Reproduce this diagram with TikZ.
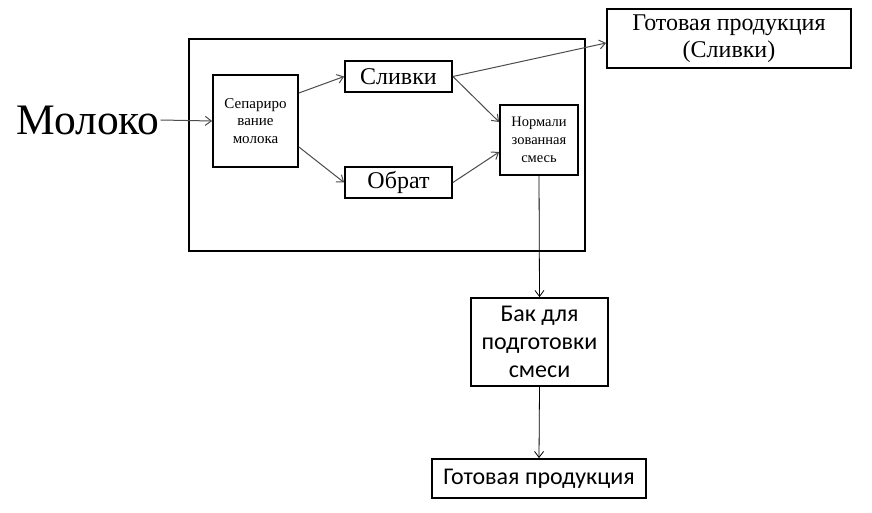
\documentclass[tikz,border=0pt]{standalone}
\usepackage{fontspec}
\setmainfont{Liberation Serif}
\newfontfamily\calib{Carlito}
\usetikzlibrary{arrows.meta}
\begin{document}
\begin{tikzpicture}[x=1pt,y=-1pt,
  box/.style={draw,line width=1.8pt,inner sep=0pt,align=center},
  arr/.style={draw=black!70,line width=1pt,-{Straight Barb[length=6pt,width=9pt]}},
  varr/.style={draw=black,line width=0.8pt,-{Straight Barb[length=6pt,width=9pt]}}]
\useasboundingbox[fill=white] (0,0) rectangle (872,513);
\node[box,minimum width=396pt,minimum height=212pt] (frame) at (387,145) {};
\node[box,minimum width=85pt,minimum height=92pt,font=\fontsize{15}{17.5}\selectfont] (sep) at (255.5,121) {Сепариро\\вание\\молока};
\node[box,minimum width=107pt,minimum height=31pt,font=\fontsize{24}{27}\selectfont] (sliv) at (398.5,76.5) {Сливки};
\node[box,minimum width=107pt,minimum height=31pt,font=\fontsize{24}{27}\selectfont] (obr) at (398.5,182.5) {Обрат};
\node[box,minimum width=78pt,minimum height=70pt,font=\fontsize{14.5}{18}\selectfont] (norm) at (539,140) {Нормали\\зованная\\смесь};
\node[box,minimum width=244pt,minimum height=59pt,font=\fontsize{24}{27}\selectfont] (got1) at (729,38.5) {Готовая продукция\\(Сливки)};
\node[box,minimum width=137pt,minimum height=88pt,font=\calib\fontsize{24}{28}\selectfont] (bak) at (539.5,342) {Бак для\\подготовки\\смеси};
\node[box,minimum width=214pt,minimum height=39pt,font=\calib\fontsize{24}{27}\selectfont] (got2) at (539,478.5) {Готовая продукция};
\node[inner sep=1pt,font=\fontsize{43.5}{46}\selectfont] (mol) at (88,120) {Молоко};
\draw[arr] (mol.east) -- (sep.west);
\draw[arr] ([yshift=28pt]sep.east) -- (sliv.west);
\draw[arr] ([yshift=-26pt]sep.east) -- (obr.west);
\draw[arr] (sliv.east) -- ([yshift=18pt]norm.west);
\draw[arr] (obr.east) -- ([yshift=-12pt]norm.west);
\draw[arr] (sliv.east) -- ([yshift=-4.5pt]got1.west);
\draw[varr] (norm.south) -- (bak.north);
\draw[varr] (bak.south) -- (got2.north);
\end{tikzpicture}
\end{document}
